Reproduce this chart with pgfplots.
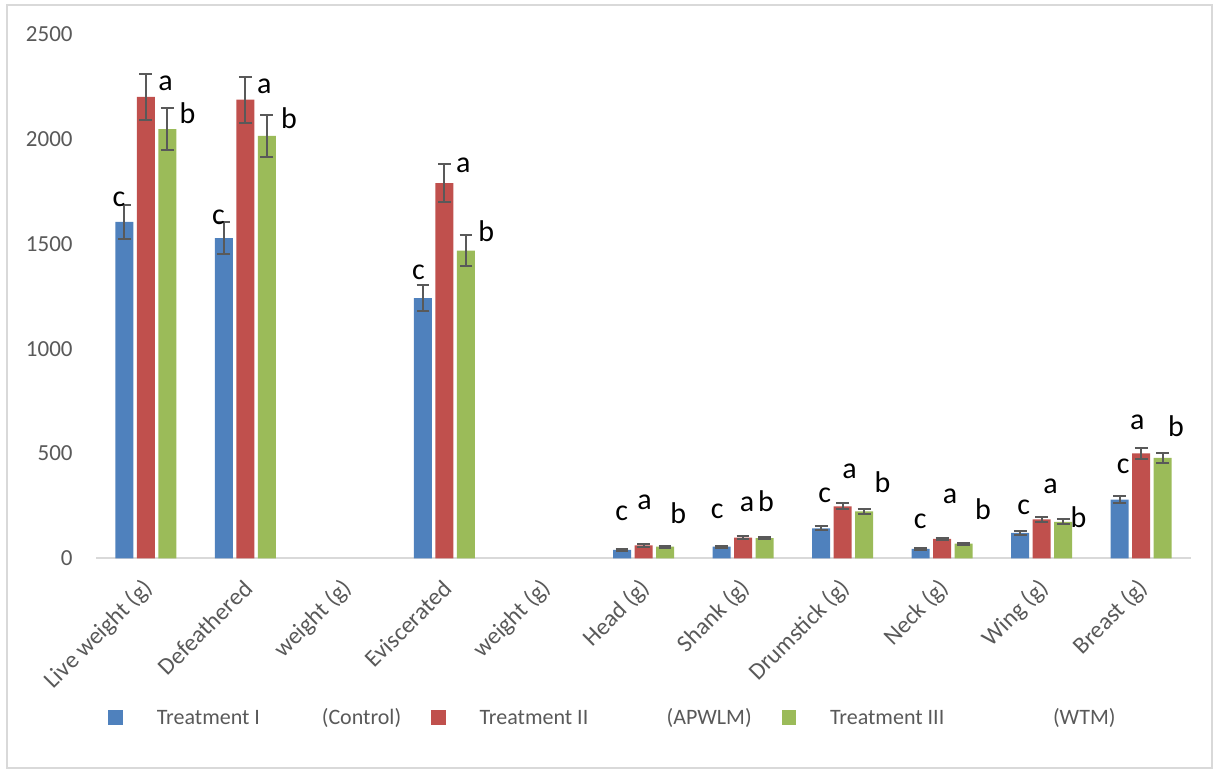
\documentclass[border=0pt]{standalone}
\usepackage{pgfplots}
\pgfplotsset{compat=1.18}
\usepackage{pgfplotstable}
\usepackage{fontspec}
\setmainfont{Carlito}
\definecolor{cI}{HTML}{4F81BD}
\definecolor{cII}{HTML}{C0504D}
\definecolor{cIII}{HTML}{9BBB59}
\definecolor{txt}{HTML}{595959}
\definecolor{frm}{HTML}{D9D9D9}
\definecolor{err}{HTML}{595959}

\pgfplotstableread{
x  y1   e1  y2   e2  y3   e3
0  1605 80  2200 110 2046 100
1  1527 78  2187 110 2014 100
3  1241 63  1789 90  1467 73
5  41   5   62   6   56   5
6  56   5   100  7   97   6
7  144  10  249  15  225  13
8  46   4   94   6   71   5
9  122  9   187  13  175  11
10 281  16  501  26  480  25
}\data

\begin{document}
\begin{tikzpicture}[x=1pt,y=1pt]
\path[use as bounding box] (0,0) rectangle (607,385);
\draw[frm, line width=0.8pt] (3.5,1) rectangle (606,382.5);
\begin{axis}[
  at={(48pt,105.75pt)}, anchor=south west,
  scale only axis, width=547.5pt, height=262.25pt,
  ybar, bar width=9pt,
  xmin=-0.5, xmax=10.5, ymin=0, ymax=2500,
  axis x line=bottom, axis y line=left,
  x axis line style={-, draw=frm, line width=1pt},
  y axis line style={draw=none},
  major tick length=0pt,
  xtick={0,...,10},
  xticklabels={Live weight (g), Defeathered, weight (g), Eviscerated, weight (g), Head (g), Shank (g), Drumstick (g), Neck (g), Wing (g), Breast (g)},
  x tick label style={rotate=45, anchor=east, inner sep=0pt, xshift=-8.1pt, yshift=-10.3pt, font=\fontsize{12}{14}\selectfont, text=txt},
  ytick={0,500,...,2500},
  y tick label style={anchor=east, inner sep=0pt, xshift=-11.5pt, font=\fontsize{11.5}{13}\selectfont, text=txt},
  /pgf/number format/assume math mode=true,
  /pgf/number format/1000 sep={},
  legend style={at={(0.011,-0.3033)}, anchor=west, draw=none, fill=none, inner sep=0pt,
    font=\fontsize{11}{13}\selectfont, text=txt,
    nodes={inner sep=0pt},
    /tikz/every odd column/.append style={column sep=17pt},
    /tikz/every even column/.append style={column sep=15pt}},
  legend columns=3,
  legend cell align=left,
  clip=false,
]
\addplot[fill=cI, draw=none, bar shift=-10.75pt, forget plot,
  error bars/.cd, y dir=both, y explicit,
  error bar style={line width=1pt, color=err},
  error mark options={rotate=90, mark size=3.2pt, line width=1pt, color=err}]
  table[x=x, y=y1, y error=e1] {\data};
\addplot[fill=cII, draw=none, bar shift=0pt, forget plot,
  error bars/.cd, y dir=both, y explicit,
  error bar style={line width=1pt, color=err},
  error mark options={rotate=90, mark size=3.2pt, line width=1pt, color=err}]
  table[x=x, y=y2, y error=e2] {\data};
\addplot[fill=cIII, draw=none, bar shift=10.75pt, forget plot,
  error bars/.cd, y dir=both, y explicit,
  error bar style={line width=1pt, color=err},
  error mark options={rotate=90, mark size=3.2pt, line width=1pt, color=err}]
  table[x=x, y=y3, y error=e3] {\data};

\addlegendimage{legend image code/.code={\fill[cI] (0pt,-3.4pt) rectangle (6.8pt,3.4pt);}}
\addlegendentry{\makebox[82.5pt][l]{Treatment I}(Control)}
\addlegendimage{legend image code/.code={\fill[cII] (0pt,-3.4pt) rectangle (6.8pt,3.4pt);}}
\addlegendentry{\makebox[93.5pt][l]{Treatment II}(APWLM)}
\addlegendimage{legend image code/.code={\fill[cIII] (0pt,-3.4pt) rectangle (6.8pt,3.4pt);}}
\addlegendentry{\makebox[111.5pt][l]{Treatment III}(WTM)}

\begin{scope}[every node/.style={font=\fontsize{15}{18}\selectfont, text=black, inner sep=0pt}]
\node at (axis cs:-0.27,1714) {c};
\node at (axis cs:0.20,2267) {a};
\node at (axis cs:0.42,2124) {b};
\node at (axis cs:0.73,1628) {c};
\node at (axis cs:1.19,2252) {a};
\node at (axis cs:1.44,2100) {b};
\node at (axis cs:2.74,1362) {c};
\node at (axis cs:3.19,1876) {a};
\node at (axis cs:3.42,1562) {b};
\node at (axis cs:4.78,214) {c};
\node at (axis cs:5.01,267) {a};
\node at (axis cs:5.35,214) {b};
\node at (axis cs:5.74,224) {c};
\node at (axis cs:6.04,257) {a};
\node at (axis cs:6.23,271) {b};
\node at (axis cs:6.82,300) {c};
\node at (axis cs:7.07,414) {a};
\node at (axis cs:7.40,362) {b};
\node at (axis cs:7.78,176) {c};
\node at (axis cs:8.08,295) {a};
\node at (axis cs:8.41,233) {b};
\node at (axis cs:8.82,243) {c};
\node at (axis cs:9.09,343) {a};
\node at (axis cs:9.37,195) {b};
\node at (axis cs:9.82,438) {c};
\node at (axis cs:9.96,648) {a};
\node at (axis cs:10.35,629) {b};
\end{scope}
\end{axis}
\end{tikzpicture}
\end{document}
